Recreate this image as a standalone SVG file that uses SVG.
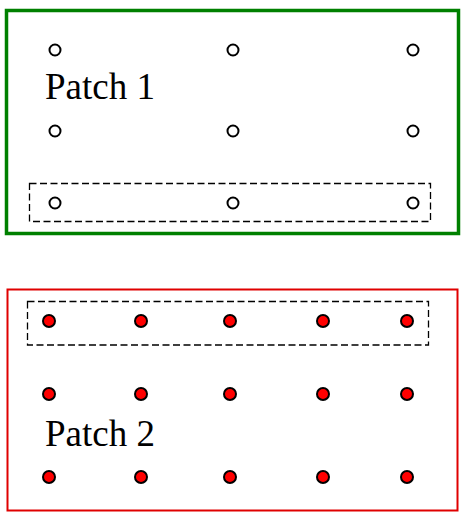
<svg xmlns="http://www.w3.org/2000/svg" width="465" height="517" viewBox="0 0 465 517">
<style>
.lbl{font-family:"Liberation Serif","Times New Roman",serif;font-size:37px;fill:#000}
.o{fill:#fff;stroke:#000;stroke-width:2}
.r{fill:#f00;stroke:#000;stroke-width:2}
.dash{fill:none;stroke:#000;stroke-width:1.3;stroke-dasharray:7,3.5}
</style>
<rect width="465" height="517" fill="#fff"/>
<g id="patch1">
<rect x="6.5" y="10.5" width="452" height="223" fill="none" stroke="#008000" stroke-width="3.5"/>
<text class="lbl" x="45" y="99">Patch 1</text>
<rect class="dash" x="29.5" y="183.5" width="401" height="38"/>
<circle class="o" cx="55" cy="50" r="5.5"/><circle class="o" cx="233" cy="50" r="5.5"/><circle class="o" cx="413" cy="50" r="5.5"/>
<circle class="o" cx="55" cy="131" r="5.5"/><circle class="o" cx="233" cy="131" r="5.5"/><circle class="o" cx="413" cy="131" r="5.5"/>
<circle class="o" cx="55" cy="203" r="5.5"/><circle class="o" cx="233" cy="203" r="5.5"/><circle class="o" cx="413" cy="203" r="5.5"/>
</g>
<g id="patch2">
<rect x="7.5" y="289.5" width="450" height="221" fill="none" stroke="#e00000" stroke-width="2"/>
<text class="lbl" x="45" y="446">Patch 2</text>
<rect class="dash" x="27.5" y="301.5" width="401" height="43.5"/>
<g>
<circle class="r" cx="49" cy="321" r="6"/><circle class="r" cx="141" cy="321" r="6"/><circle class="r" cx="230" cy="321" r="6"/><circle class="r" cx="323" cy="321" r="6"/><circle class="r" cx="407" cy="321" r="6"/>
<circle class="r" cx="49" cy="394" r="6"/><circle class="r" cx="141" cy="394" r="6"/><circle class="r" cx="230" cy="394" r="6"/><circle class="r" cx="323" cy="394" r="6"/><circle class="r" cx="407" cy="394" r="6"/>
<circle class="r" cx="49" cy="477" r="6"/><circle class="r" cx="141" cy="477" r="6"/><circle class="r" cx="230" cy="477" r="6"/><circle class="r" cx="323" cy="477" r="6"/><circle class="r" cx="407" cy="477" r="6"/>
</g>
</g>
<g id="connectors"></g>
</svg>
